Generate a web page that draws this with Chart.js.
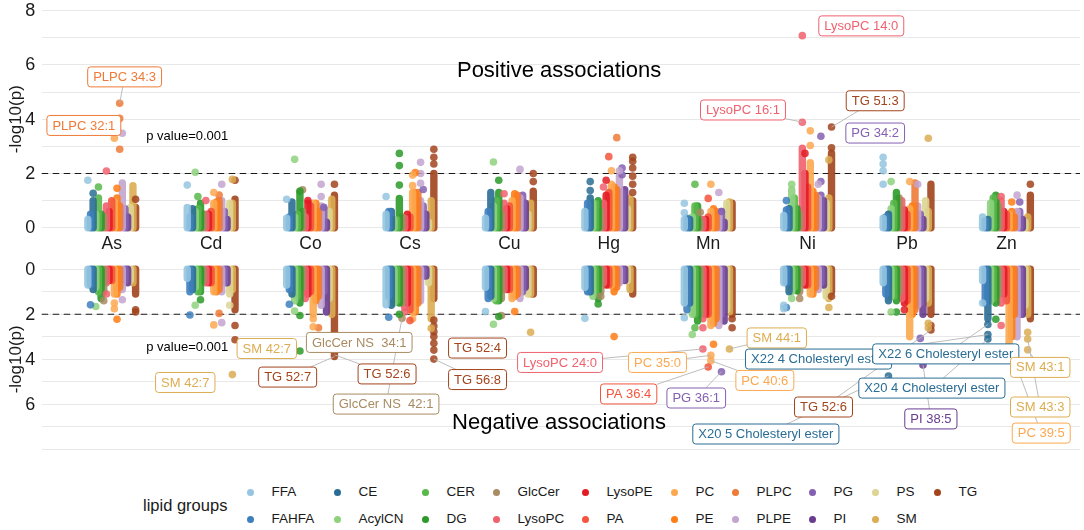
<!DOCTYPE html>
<html>
<head>
<meta charset="utf-8">
<script src="https://cdn.jsdelivr.net/npm/chart.js@4.4.1/dist/chart.umd.min.js"></script>
<style>
  body { margin: 0; width: 1084px; height: 530px; background: #fff; position: relative; overflow: hidden;
         font-family: "Liberation Sans", Arial, sans-serif; color: #1a1a1a; }
  canvas { position: absolute; left: 0; }
  #top { top: 0; }
  #bot { top: 255px; }
  .lg-title { position: absolute; left: 143px; top: 496px; font-size: 16.5px; }
  .lg-item { position: absolute; font-size: 13.5px; line-height: 16px; white-space: nowrap; }
  .lg-dot { position: absolute; width: 7px; height: 7px; border-radius: 50%; }
</style>
</head>
<body>
<canvas id="top" width="1084" height="260"></canvas>
<canvas id="bot" width="1084" height="210"></canvas>
<div id="legend"></div>
<script>
const metals = ["As", "Cd", "Co", "Cs", "Cu", "Hg", "Mn", "Ni", "Pb", "Zn"];
const groups = ["FFA", "FAHFA", "CE", "AcylCN", "CER", "DG", "GlcCer", "LysoPC", "LysoPE", "PA",
                "PC", "PE", "PLPC", "PLPE", "PG", "PI", "PS", "SM", "TG"];
const groupColors = ["#95c5e0", "#3e80bf", "#2a6d94", "#8ed27e", "#58b84a", "#2b9a2a", "#a88b62", "#f0616e",
                     "#e31b23", "#f5553d", "#fca850", "#ff7d15", "#ee7a37", "#c3a5cf", "#8460b2", "#693c90",
                     "#ddd593", "#dcad52", "#a2441c"];
const yTicks = [0, 2, 4, 6, 8];

// top of the packed column of points, one value per lipid group (positive associations)
const posAs = [0.3, 0.5, 1.0, 0.5, 1.1, 0.5, 0.4, 0.8, 0.6, 1.0, 0.95, 1.1, 0.8, 1.65, 0.7, 0.4, 0.75, 1.55, 0.75];
const posCd = [0.75, 0.4, 0.7, 0.6, 0.7, 0.9, 0.5, 0.5, 0.5, 0.6, 0.9, 0.95, 1.0, 1.0, 0.6, 0.3, 0.9, 0.9, 1.05];
const posCo = [0.35, 0.4, 0.95, 0.4, 0.5, 1.3, 0.6, 0.4, 0.9, 0.8, 0.9, 0.9, 0.6, 0.8, 0.7, 0.2, 0.6, 1.05, 1.2];
const posCs = [0.5, 0.6, 0.6, 0.3, 0.3, 1.08, 0.4, 0.35, 0.5, 0.4, 1.3, 1.3, 1.3, 1.0, 0.8, 0.5, 0.2, 1.0, 2.0];
const posCu = [0.35, 0.6, 1.3, 0.8, 1.0, 1.3, 0.5, 0.9, 0.7, 0.8, 1.0, 1.25, 1.2, 1.1, 1.2, 0.9, 0.5, 0.9, 1.35];
const posHg = [0.6, 0.9, 1.1, 0.9, 0.9, 1.0, 0.6, 0.9, 1.2, 1.3, 1.6, 1.5, 1.4, 1.9, 1.3, 1.4, 0.7, 1.1, 1.0];
const posMn = [0.3, 0.35, 0.3, 0.4, 0.8, 0.8, 0.2, 0.3, 0.3, 0.4, 0.6, 0.7, 0.6, 0.5, 0.6, 0.2, 0.9, 0.95, 0.9];
const posNi = [0.45, 0.65, 0.7, 1.4, 1.1, 0.7, 0.5, 2.93, 2.0, 1.5, 2.4, 1.35, 1.2, 1.1, 1.2, 1.0, 0.9, 1.1, 2.75];
const posPb = [0.35, 0.4, 0.5, 0.7, 0.9, 1.3, 1.1, 1.0, 0.65, 0.5, 0.7, 0.8, 1.65, 0.8, 0.5, 0.3, 1.0, 0.6, 1.6];
const posZn = [0.4, 0.25, 0.3, 0.9, 1.1, 1.2, 0.8, 1.0, 0.6, 0.5, 0.5, 0.6, 0.4, 0.6, 0.6, 0.3, 0.2, 0.4, 1.2];

// same for negative associations
const negAs = [0.7, 0.7, 0.9, 0.8, 1.0, 1.3, 1.0, 0.6, 0.5, 0.5, 1.1, 1.1, 0.8, 0.9, 0.5, 0.6, 0.5, 0.6, 1.1];
const negCd = [0.4, 1.0, 0.9, 0.8, 1.0, 1.0, 0.5, 0.6, 0.6, 0.6, 1.0, 1.0, 0.9, 1.0, 0.6, 0.6, 1.1, 0.9, 1.8];
const negCo = [0.7, 0.9, 1.1, 1.4, 1.2, 1.5, 0.8, 1.3, 1.1, 1.0, 2.0, 1.4, 1.2, 1.6, 1.0, 1.9, 1.3, 2.0, 3.88];
const negCs = [1.58, 1.2, 1.6, 1.5, 1.4, 1.5, 1.5, 1.7, 1.5, 1.8, 1.9, 1.9, 1.5, 1.4, 0.3, 0.3, 0.6, 2.2, 1.3];
const negCu = [0.8, 1.3, 1.2, 1.3, 1.4, 1.4, 1.3, 0.9, 0.9, 0.9, 1.3, 1.2, 1.1, 1.3, 1.0, 0.8, 1.1, 1.1, 1.1];
const negHg = [0.8, 1.0, 1.0, 1.2, 1.0, 1.3, 1.0, 0.6, 0.7, 0.7, 0.7, 1.0, 0.8, 0.6, 0.5, 0.5, 0.5, 0.9, 1.1];
const negMn = [1.5, 1.8, 1.5, 2.0, 2.0, 2.3, 2.0, 2.2, 2.0, 2.0, 2.5, 2.4, 2.2, 2.5, 2.0, 2.3, 1.8, 1.9, 2.0];
const negNi = [0.6, 0.6, 1.0, 1.0, 0.8, 0.95, 1.0, 0.6, 0.7, 0.7, 1.1, 1.1, 0.8, 0.9, 0.6, 0.7, 1.2, 1.3, 1.0];
const negPb = [0.6, 1.1, 1.4, 1.2, 1.2, 1.4, 1.0, 1.3, 1.5, 1.4, 3.0, 2.0, 1.8, 1.6, 1.5, 2.0, 1.3, 1.5, 2.0];
const negZn = [0.5, 1.5, 2.2, 1.4, 1.3, 1.5, 1.1, 1.5, 1.1, 1.4, 3.4, 3.0, 2.0, 3.0, 2.0, 2.0, 1.6, 2.0, 2.2];

// separate points above the packed columns: [metal, group, -log10(p)]
const posDots = [
  ["As","FFA",1.75], ["As","CE",1.27], ["As","CER",1.5], ["As","LysoPC",2.09], ["As","PE",1.45], ["As","PC",3.3],
  ["As","PLPC",4.59], ["As","PLPC",4.03], ["As","PLPC",2.89], ["As","PLPE",3.48], ["As","TG",1.05],
  ["Cd","FFA",1.57], ["Cd","AcylCN",2.04], ["Cd","CER",1.15], ["Cd","LysoPC",1.0], ["Cd","PC",1.3], ["Cd","PLPC",1.2],
  ["Cd","PLPE",1.6], ["Cd","SM",1.78], ["Cd","TG",1.75],
  ["Co","FFA",1.05], ["Co","AcylCN",2.52], ["Co","DG",1.35], ["Co","GlcCer",1.4], ["Co","LysoPE",1.0],
  ["Co","PLPE",1.6], ["Co","PLPE",1.15], ["Co","PG",0.75], ["Co","TG",1.6],
  ["Cs","FFA",1.15], ["Cs","DG",1.57], ["Cs","DG",2.29], ["Cs","DG",2.74], ["Cs","PC",1.55], ["Cs","PC",1.94],
  ["Cs","PE",2.03], ["Cs","PLPE",1.64], ["Cs","PLPE",2.0], ["Cs","PLPE",2.41], ["Cs","PG",1.41],
  ["Cs","TG",2.35], ["Cs","TG",2.6], ["Cs","TG",2.89],
  ["Cu","AcylCN",2.42], ["Cu","DG",1.75], ["Cu","LysoPC",1.25], ["Cu","PLPE",2.15], ["Cu","TG",1.7], ["Cu","TG",2.0],
  ["Hg","CE",1.37], ["Hg","CE",1.7], ["Hg","LysoPC",1.5], ["Hg","LysoPE",1.75], ["Hg","PA",2.62], ["Hg","PC",2.1],
  ["Hg","PLPC",3.32], ["Hg","PLPE",2.1], ["Hg","PG",2.2], ["Hg","PG",1.95], ["Hg","TG",1.3], ["Hg","TG",1.6],
  ["Hg","TG",1.9], ["Hg","TG",2.2], ["Hg","TG",2.45], ["Hg","TG",2.6],
  ["Mn","FFA",0.9], ["Mn","FFA",0.55], ["Mn","CER",1.6], ["Mn","GlcCer",0.57], ["Mn","PA",1.08], ["Mn","PC",1.6],
  ["Mn","PLPE",1.3], ["Mn","PG",0.6],
  ["Ni","FAHFA",1.0], ["Ni","AcylCN",1.6], ["Ni","LysoPC",3.89], ["Ni","LysoPC",7.08], ["Ni","LysoPE",2.74],
  ["Ni","PC",3.03], ["Ni","PC",3.57], ["Ni","PLPE",1.6], ["Ni","PG",3.37], ["Ni","PG",1.7], ["Ni","SM",2.5],
  ["Ni","TG",3.71], ["Ni","TG",2.95],
  ["Pb","FFA",1.6], ["Pb","FFA",2.1], ["Pb","FFA",2.35], ["Pb","FFA",2.6], ["Pb","AcylCN",1.7], ["Pb","PC",1.7],
  ["Pb","PLPE",1.6], ["Pb","SM",3.3],
  ["Zn","LysoPC",1.15], ["Zn","PE",0.95], ["Zn","PLPE",1.2], ["Zn","PG",0.95], ["Zn","TG",1.6]
];
const negDots = [
  ["As","FAHFA",1.58], ["As","AcylCN",1.65], ["As","GlcCer",1.4], ["As","LysoPC",1.1], ["As","PC",1.5], ["As","PC",1.75],
  ["As","PE",2.22], ["As","PLPE",1.35], ["As","TG",1.8], ["As","TG",1.9],
  ["Cd","FAHFA",2.03], ["Cd","AcylCN",1.6], ["Cd","DG",1.35], ["Cd","PC",2.47], ["Cd","PLPC",1.96], ["Cd","PLPE",2.37],
  ["Cd","PS",1.6], ["Cd","SM",4.68], ["Cd","TG",2.5], ["Cd","TG",3.13],
  ["Co","FAHFA",1.55], ["Co","AcylCN",1.85], ["Co","DG",2.05], ["Co","DG",3.63], ["Co","PC",2.2], ["Co","PC",2.55],
  ["Co","PLPC",2.6],
  ["Cs","FAHFA",2.13], ["Cs","DG",2.0], ["Cs","GlcCer",2.18], ["Cs","LysoPC",1.9], ["Cs","PA",2.28], ["Cs","PC",2.2],
  ["Cs","SM",2.62], ["Cs","TG",2.25], ["Cs","TG",2.52], ["Cs","TG",2.77], ["Cs","TG",2.99], ["Cs","TG",3.29],
  ["Cs","TG",3.59], ["Cs","TG",3.99],
  ["Cu","FFA",1.88], ["Cu","AcylCN",2.44], ["Cu","DG",2.1], ["Cu","GlcCer",2.05], ["Cu","PE",1.88], ["Cu","SM",2.8],
  ["Hg","FFA",2.18], ["Hg","DG",1.54], ["Hg","GlcCer",1.2], ["Hg","PE",2.99],
  ["Mn","FFA",2.15], ["Mn","AcylCN",2.9], ["Mn","CER",2.6], ["Mn","LysoPC",2.6], ["Mn","LysoPC",3.54], ["Mn","PA",4.34],
  ["Mn","PC",3.82], ["Mn","PC",4.06], ["Mn","PE",3.33], ["Mn","PG",4.55], ["Mn","SM",3.54], ["Mn","TG",2.2], ["Mn","TG",2.6],
  ["Ni","FFA",1.6], ["Ni","FFA",1.75], ["Ni","FAHFA",1.7], ["Ni","AcylCN",1.3], ["Ni","GlcCer",1.3], ["Ni","SM",1.7],
  ["Ni","TG",1.2],
  ["Pb","CE",4.74], ["Pb","AcylCN",1.9], ["Pb","DG",1.9], ["Pb","LysoPE",1.8], ["Pb","PG",3.07], ["Pb","PI",4.25],
  ["Pb","SM",2.4], ["Pb","SM",2.6], ["Pb","TG",2.5], ["Pb","TG",2.7],
  ["Zn","FFA",1.5], ["Zn","CE",2.45], ["Zn","CE",2.9], ["Zn","CE",3.1], ["Zn","DG",2.22], ["Zn","LysoPC",2.5],
  ["Zn","SM",2.8], ["Zn","SM",3.1], ["Zn","SM",3.58]
];

// labelled points: [text, group, metal, value]  (metal null = no leader line)
const posLabels = [
  ["PLPC 34:3","PLPC","As",4.59], ["PLPC 32:1","PLPC",null,null], ["LysoPC 14:0","LysoPC",null,null],
  ["LysoPC 16:1","LysoPC","Ni",3.89], ["TG 51:3","TG","Ni",3.71], ["PG 34:2","PG",null,null]
];
const posLabelAt = [[1.13,5.56], [0.72,3.77], [8.54,7.44], [7.35,4.34], [8.68,4.68], [8.68,3.49]];

const negLabels = [
  ["SM 42:7","SM",null,null], ["SM 42:7","SM",null,null], ["TG 52:7","TG","Co",3.88],
  ["GlcCer NS  34:1","GlcCer",null,null], ["TG 52:6","TG","Co",3.8], ["GlcCer NS  42:1","GlcCer","Cs",2.18],
  ["TG 52:4","TG",null,null], ["TG 56:8","TG","Cs",3.99], ["LysoPC 24:0","LysoPC","Mn",3.54],
  ["PC 35:0","PC","Mn",3.82], ["PA 36:4","PA","Mn",4.34], ["PG 36:1","PG","Mn",4.55], ["SM 44:1","SM","Mn",3.54],
  ["X22 4 Cholesteryl ester","CE","Zn",2.9], ["PC 40:6","PC","Mn",4.06], ["X20 5 Cholesteryl ester","CE","Pb",4.74],
  ["TG 52:6","TG","Pb",2.7], ["X22 6 Cholesteryl ester","CE","Zn",2.45], ["X20 4 Cholesteryl ester","CE","Zn",3.1],
  ["PI 38:5","PI","Pb",4.25], ["SM 43:1","SM","Zn",3.58], ["SM 43:3","SM","Zn",3.1], ["PC 39:5","PC","Zn",3.4]
];
const negLabelAt = [[1.74,5.03], [2.56,3.52], [2.77,4.79], [3.49,3.25], [3.77,4.65], [3.76,5.99], [4.68,3.5],
  [4.68,4.9], [5.51,4.14], [6.49,4.14], [6.2,5.54], [6.88,5.72], [7.69,3.05], [8.11,3.99], [7.57,4.94],
  [7.58,7.32], [8.16,6.12], [9.39,3.76], [9.25,5.28], [9.24,6.65], [10.34,4.36], [10.34,6.12], [10.35,7.28]];

const FONT = '"Liberation Sans", Arial, sans-serif';
Chart.defaults.font.family = FONT;
Chart.defaults.color = "#1a1a1a";

function rgba(hex, a) {
  const n = parseInt(hex.slice(1), 16);
  return `rgba(${n >> 16},${(n >> 8) & 255},${n & 255},${a})`;
}
// horizontal place of a lipid group inside its metal
const off = gi => -0.24 + gi * 0.0267;
const xOf = (m, g) => metals.indexOf(m) + 1 + off(groups.indexOf(g));

function buildDatasets(cols, dots) {
  const ds = [];
  groups.forEach((g, gi) => {
    const seg = [];
    cols.forEach((arr, mi) => {
      const x = mi + 1 + off(gi);
      seg.push({x, y: 0}, {x, y: arr[gi]}, {x, y: null});
    });
    ds.push({ type: "line", data: seg, borderColor: rgba(groupColors[gi], 0.9), borderWidth: 7.4,
      borderCapStyle: "round", pointRadius: 0, spanGaps: false, fill: false, tension: 0, clip: false, order: 1 });
    ds.push({ type: "scatter", data: dots.filter(d => d[1] === g).map(d => ({x: xOf(d[0], g), y: d[2]})),
      backgroundColor: rgba(groupColors[gi], 0.85), borderWidth: 0, pointRadius: 3.8, clip: false, order: 0 });
  });
  return ds;
}

function panelPlugin(title, titleAt, pAt, labels, labelAt, showTop) {
  return {
    id: "panel",
    beforeDatasetsDraw(chart) {
      const {ctx, chartArea: a, scales: {y}} = chart;
      const py = y.getPixelForValue(2);
      ctx.save();
      ctx.strokeStyle = "#1a1a1a";
      ctx.lineWidth = 1.1;
      ctx.setLineDash([6.5, 4.5]);
      ctx.beginPath(); ctx.moveTo(a.left, py); ctx.lineTo(a.right, py); ctx.stroke();
      ctx.restore();
    },
    afterDatasetsDraw(chart) {
      const {ctx, chartArea: a, scales: {x, y}} = chart;
      ctx.save();
      // y tick labels
      ctx.fillStyle = "#1a1a1a";
      ctx.font = "18px " + FONT;
      ctx.textAlign = "right"; ctx.textBaseline = "middle";
      yTicks.forEach(v => {
        if (v === 8 && !showTop) return;
        ctx.fillText(String(v), a.left - 6.5, y.getPixelForValue(v) + 0.5);
      });

      ctx.fillStyle = "#000";
      ctx.textAlign = "center";
      ctx.font = "22px " + FONT;
      ctx.fillText(title, x.getPixelForValue(titleAt[0]), y.getPixelForValue(titleAt[1]));
      ctx.font = "13px " + FONT;
      ctx.fillText("p value=0.001", x.getPixelForValue(pAt[0]), y.getPixelForValue(pAt[1]));

      // y title
      ctx.save();
      ctx.translate(16, (a.top + a.bottom) / 2);
      ctx.rotate(-Math.PI / 2);
      ctx.font = "17px " + FONT;
      ctx.fillStyle = "#1a1a1a";
      ctx.fillText("-log10(p)", 0, 0);
      ctx.restore();

      // repelled labels
      ctx.font = "13px " + FONT;
      const boxes = labels.map((l, i) => ({
        w: ctx.measureText(l[0]).width + 11, h: 20,
        cx: x.getPixelForValue(labelAt[i][0]), cy: y.getPixelForValue(labelAt[i][1])
      }));
      ctx.strokeStyle = "#b5b5b5"; ctx.lineWidth = 0.9;
      labels.forEach((l, i) => {
        if (!l[2]) return;
        const b = boxes[i];
        const px = x.getPixelForValue(xOf(l[2], l[1])), py = y.getPixelForValue(l[3]);
        const dx = px - b.cx, dy = py - b.cy;
        const s = Math.min(dx ? Math.abs(b.w / 2 / dx) : Infinity, dy ? Math.abs(b.h / 2 / dy) : Infinity);
        if (s >= 1) return;
        ctx.beginPath(); ctx.moveTo(px, py); ctx.lineTo(b.cx + dx * s, b.cy + dy * s); ctx.stroke();
      });
      labels.forEach((l, i) => {
        const b = boxes[i];
        const col = groupColors[groups.indexOf(l[1])];
        ctx.beginPath();
        ctx.roundRect(b.cx - b.w / 2, b.cy - b.h / 2, b.w, b.h, 3);
        ctx.fillStyle = "#fff"; ctx.fill();
        ctx.strokeStyle = col; ctx.lineWidth = 1; ctx.stroke();
        ctx.fillStyle = col;
        ctx.fillText(l[0], b.cx, b.cy + 0.5);
      });
      ctx.restore();
    }
  };
}

function yScale(reverse) {
  return {
    min: 0, max: 8, reverse,
    grid: {color: "#e8e8e8", lineWidth: 1.1, drawTicks: false},
    border: {display: false},
    afterBuildTicks: s => { s.ticks = [0, 1, 2, 3, 4, 5, 6, 7, 8].map(v => ({value: v})); },
    ticks: {display: false},
    afterFit: s => { s.width = 41.7; }
  };
}

const xMin = 0.296, xMax = 10.74;

new Chart(document.getElementById("top"), {
  type: "scatter",
  data: {datasets: buildDatasets([posAs, posCd, posCo, posCs, posCu, posHg, posMn, posNi, posPb, posZn], posDots)},
  options: {
    responsive: false, animation: false, events: [],
    layout: {padding: {top: 10.7, left: 0, right: 0, bottom: 0}},
    plugins: {legend: {display: false}, tooltip: {enabled: false}},
    scales: {
      x: {
        type: "linear", min: xMin, max: xMax,
        grid: {display: false, drawTicks: false}, border: {display: false},
        afterBuildTicks: s => { s.ticks = metals.map((m, i) => ({value: i + 1})); },
        ticks: {callback: v => metals[v - 1] || "", font: {size: 17.5}, color: "#1a1a1a",
                padding: 5.5, maxRotation: 0, autoSkip: false},
        afterFit: s => { s.height = 32.3; }
      },
      y: yScale(false)
    }
  },
  plugins: [panelPlugin("Positive associations", [5.5, 5.78], [1.76, 3.35], posLabels, posLabelAt, true)]
});

new Chart(document.getElementById("bot"), {
  type: "scatter",
  data: {datasets: buildDatasets([negAs, negCd, negCo, negCs, negCu, negHg, negMn, negNi, negPb, negZn], negDots)},
  options: {
    responsive: false, animation: false, events: [],
    layout: {padding: {top: 14.3, left: 0, right: 0, bottom: 15.7}},
    plugins: {legend: {display: false}, tooltip: {enabled: false}},
    scales: {
      x: {type: "linear", min: xMin, max: xMax, display: false},
      y: yScale(true)
    }
  },
  plugins: [panelPlugin("Negative associations", [5.5, 6.83], [1.76, 3.45], negLabels, negLabelAt, false)]
});

// legend (column-major, two rows)
const legendDotX = [250, 337, 425, 496, 585, 674, 735, 812, 875, 937];
const legendRowY = [492, 519];
const lg = document.getElementById("legend");
lg.innerHTML = '<div class="lg-title">lipid groups</div>';
groups.forEach((g, i) => {
  const cx = legendDotX[Math.floor(i / 2)], cy = legendRowY[i % 2];
  lg.innerHTML += `<div class="lg-dot" style="left:${cx - 3.5}px;top:${cy - 3.5}px;background:${groupColors[i]}"></div>` +
    `<div class="lg-item" style="left:${cx + 21.5}px;top:${cy - 8}px">${g}</div>`;
});
</script>
</body>
</html>
